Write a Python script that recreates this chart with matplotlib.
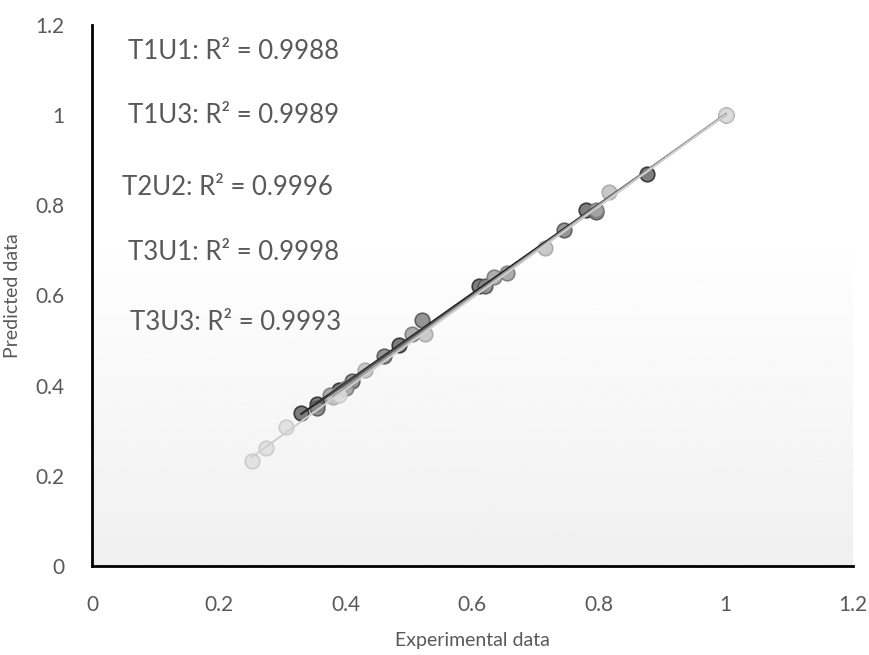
import matplotlib
matplotlib.use('Agg')
import matplotlib.pyplot as plt
import numpy as np

# experimental vs predicted values, one list pair per run
labels = ["T1U1", "T1U3", "T2U2", "T3U1", "T3U3"]
r2 = ["0.9988", "0.9989", "0.9996", "0.9998", "0.9993"]

x_t1u1 = [0.33, 0.355, 0.39, 0.485, 0.61, 0.78, 0.875, 1.0]
y_t1u1 = [0.34, 0.36, 0.39, 0.49, 0.62, 0.79, 0.87, 1.0]
x_t1u3 = [0.355, 0.41, 0.46, 0.52, 0.62, 0.745, 0.795]
y_t1u3 = [0.35, 0.41, 0.465, 0.545, 0.62, 0.745, 0.785]
x_t2u2 = [0.375, 0.40, 0.505, 0.635, 0.655, 0.795]
y_t2u2 = [0.38, 0.395, 0.515, 0.64, 0.65, 0.79]
x_t3u1 = [0.38, 0.43, 0.525, 0.715, 0.815, 1.0]
y_t3u1 = [0.375, 0.435, 0.515, 0.705, 0.83, 1.0]
x_t3u3 = [0.252, 0.274, 0.306, 0.39, 1.0]
y_t3u3 = [0.232, 0.262, 0.308, 0.38, 1.0]

xs = [x_t1u1, x_t1u3, x_t2u2, x_t3u1, x_t3u3]
ys = [y_t1u1, y_t1u3, y_t2u2, y_t3u1, y_t3u3]

face = ['#707070', '#8a8a8a', '#a5a5a5', '#c4c4c4', '#e0e0e0']
edge = ['#2e2e2e', '#555555', '#7a7a7a', '#a8a8a8', '#c8c8c8']
fit_col = ['#222222', '#333333', '#555555', '#999999', '#cfcfcf']

plt.rcParams['font.family'] = ['Lato', 'DejaVu Sans']

fig = plt.figure(figsize=(8.7, 6.55), dpi=100)
ax = fig.add_axes([0.1057, 0.136, 0.8743, 0.826])

# soft vertical gradient behind the plot
grad = np.linspace(0.94, 1.0, 256).reshape(-1, 1)
grad = np.clip((grad - 0.94) / 0.06 * 1.6, 0, 1) * 0.06 + 0.94
ax.imshow(grad, extent=[0, 1, 0, 1], transform=ax.transAxes, cmap='gray',
          vmin=0, vmax=1, aspect='auto', origin='lower', zorder=0)

for i in range(len(xs)):
    x = np.array(xs[i])
    y = np.array(ys[i])
    ax.scatter(x, y, s=110, c=face[i], edgecolors=edge[i], linewidths=1.2,
               alpha=0.9, zorder=3 + i * 0.1)
    k, b = np.polyfit(x, y, 1)
    xx = np.array([x.min(), x.max()])
    ax.plot(xx, k * xx + b, color=fit_col[i], lw=1.4, zorder=5)

text_pos = [(0.057, 1.14), (0.057, 0.998), (0.047, 0.84), (0.057, 0.696), (0.06, 0.539)]
for lab, r, (tx, ty) in zip(labels, r2, text_pos):
    ax.text(tx, ty, f"{lab}: R² = {r}", fontsize=18.5, color='#595959',
            va='center', ha='left')

ax.set_xlim(0, 1.2)
ax.set_ylim(0, 1.2)
ticks = [0, 0.2, 0.4, 0.6, 0.8, 1, 1.2]
ticklab = ['0', '0.2', '0.4', '0.6', '0.8', '1', '1.2']
ax.set_xticks(ticks)
ax.set_xticklabels(ticklab)
ax.set_yticks(ticks)
ax.set_yticklabels(ticklab)
ax.tick_params(length=0, labelsize=15, colors='#595959')
ax.tick_params(axis='x', pad=21)
ax.tick_params(axis='y', pad=20)

for s in ['top', 'right']:
    ax.spines[s].set_visible(False)
for s in ['left', 'bottom']:
    ax.spines[s].set_linewidth(2)
    ax.spines[s].set_color('black')

ax.set_xlabel("Experimental data", fontsize=14, color='#595959', labelpad=12)
ax.set_ylabel("Predicted data", fontsize=14, color='#595959', labelpad=10)

fig.savefig('out.png', dpi=100)
